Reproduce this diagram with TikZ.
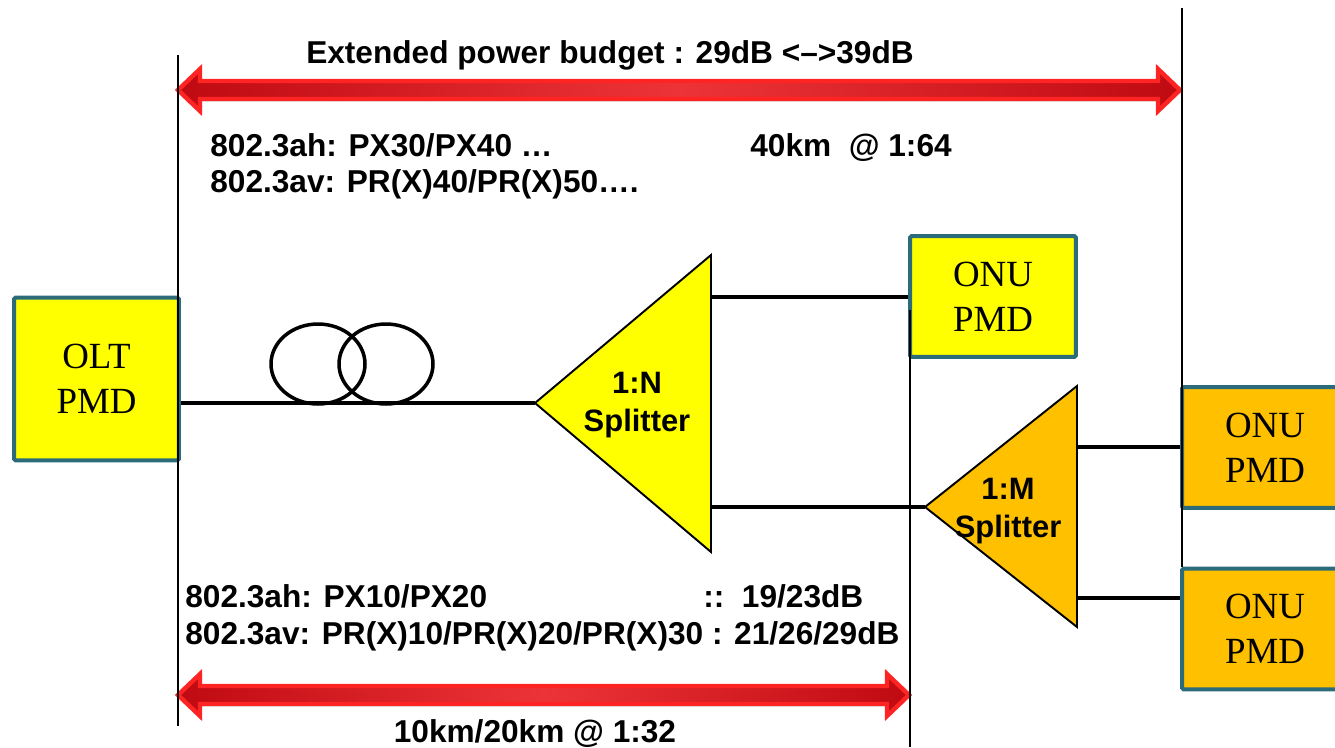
\documentclass[tikz,border=0pt]{standalone}
\usepackage{fontspec}
\setmainfont{Liberation Sans}
\newfontfamily\pmdfont{Liberation Serif}
\usepackage{xcolor}
\usepackage{tikz}
\usetikzlibrary{positioning,shapes.geometric,shadows}

\definecolor{pmdyellow}{RGB}{255,255,0}
\definecolor{pmdorange}{RGB}{255,192,0}
\definecolor{pmdframe}{RGB}{44,107,122}
\definecolor{arrowdark}{RGB}{192,10,18}
\definecolor{arrowlight}{RGB}{236,52,56}
\definecolor{arrowrim}{RGB}{255,36,36}

\begin{document}
\begin{tikzpicture}[
    x=0.02cm, y=-0.02cm,
    pmd/.style={draw=pmdframe, line width=0.08cm, rounded corners=1pt, minimum width=3.32cm, minimum height=2.42cm, align=center, inner sep=0pt, font=\pmdfont\fontsize{21}{25.6}\selectfont},
    splitter/.style={draw=black, line width=1.1pt, line join=miter},
    splitlabel/.style={align=center, inner sep=0pt, font=\bfseries\fontsize{17.6}{21.6}\selectfont},
    note/.style={inner sep=0pt, anchor=base west, font=\bfseries\fontsize{18}{21}\selectfont},
    fiber/.style={draw, line width=1.9pt},
    coil/.style={ellipse, draw, line width=2pt, minimum width=1.88cm, minimum height=1.6cm, inner sep=0pt},
    rangeline/.style={draw, line width=1.1pt},
    budget/.style={draw=arrowrim, line width=2.5pt, line join=miter, left color=arrowdark, right color=arrowdark, middle color=arrowlight, drop shadow={opacity=0.3, shadow xshift=0pt, shadow yshift=-1.5pt}}
]
    \useasboundingbox (0,0) rectangle (1335,747);

    % power budget arrows
    \path[budget] (178,90) -- (200,69) -- (200,81) -- (1158,81) -- (1158,69) -- (1180,90)
        -- (1158,111) -- (1158,99) -- (200,99) -- (200,111) -- cycle;
    \path[budget] (178,695) -- (200,674) -- (200,686) -- (887,686) -- (887,674) -- (909,695)
        -- (887,716) -- (887,704) -- (200,704) -- (200,716) -- cycle;

    \node[note, anchor=base] (budgettitle) at (610,63) {Extended power budget : 29dB <–>39dB};
    \node[note] (ahlong)    at (210,156) {802.3ah: PX30/PX40 …};
    \node[note] (avlong)    [below=0.74cm of ahlong.base west, anchor=base west] {802.3av: PR(X)40/PR(X)50….};
    \node[note] (reachlong) at (750,156) {40km\ \ @ 1:64};

    \node[note] (ahshort)   at (185,607) {802.3ah: PX10/PX20};
    \node[note] (avshort)   [below=0.74cm of ahshort.base west, anchor=base west] {802.3av: PR(X)10/PR(X)20/PR(X)30 : 21/26/29dB};
    \node[note] (lossshort) at (703,607) {::\ \ 19/23dB};
    \node[note, anchor=base] (reachshort) at (535,742) {10km/20km @ 1:32};

    % PMD boxes
    \node[pmd, fill=pmdyellow, minimum width=3.3cm, minimum height=3.26cm] (olt) at (96.5,379) {OLT\\PMD};
    \node[pmd, fill=pmdyellow] (onua) at (993,296.5) {ONU\\PMD};
    \node[pmd, fill=pmdorange] (onub) at (1265,447.5) {ONU\\PMD};
    \node[pmd, fill=pmdorange] (onuc) at (1265,629) {ONU\\PMD};

    % splitters
    \coordinate (nsplit)    at (535,403);
    \coordinate (nsplit-up) at (711,297);
    \coordinate (nsplit-dn) at (711,507);
    \draw[splitter, fill=pmdyellow] (nsplit) -- (711,255) -- (711,552) -- cycle;
    \node[splitlabel] (nlabel) at (637,405) {1:N\\Splitter};

    \coordinate (msplit)    at (925,507);
    \coordinate (msplit-up) at (1077,447);
    \coordinate (msplit-dn) at (1077,598);
    \draw[splitter, fill=pmdorange] (msplit) -- (1077,386) -- (1077,627) -- cycle;
    \node[splitlabel] (mlabel) at (1008,511) {1:M\\Splitter};

    % fibre
    \node[coil] (coila) at (318,364) {};
    \node[coil] (coilb) at (386,364) {};
    \draw[fiber] (olt.east |- nsplit) -- (nsplit);
    \draw[fiber] (nsplit-up) -- (onua.west |- nsplit-up);
    \draw[fiber] (nsplit-dn) -- (msplit);
    \draw[fiber] (msplit-up) -- (onub.west |- msplit-up);
    \draw[fiber] (msplit-dn) -- (onuc.west |- msplit-dn);

    % reach limits
    \draw[rangeline] (178,55) -- (178,726);
    \draw[rangeline] (910,310) -- (910,747);
    \draw[rangeline] (1182,8) -- (1182,567);
\end{tikzpicture}
\end{document}
